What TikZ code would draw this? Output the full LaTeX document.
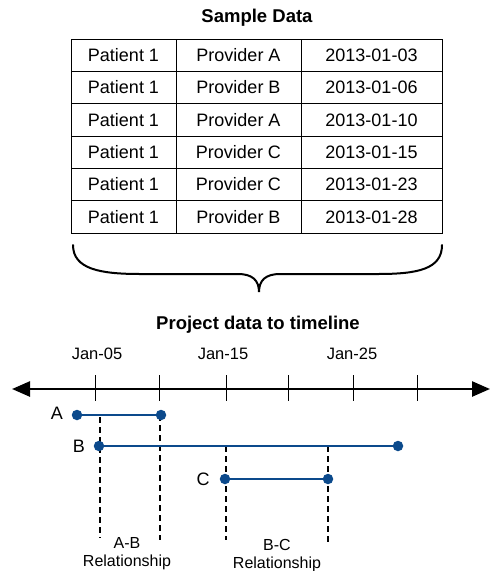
\documentclass[tikz,border=0pt]{standalone}
\usepackage{fontspec}
\setmainfont{Liberation Sans}
\usetikzlibrary{arrows.meta}
\definecolor{dotblue}{RGB}{12,74,140}
\begin{document}
\begin{tikzpicture}[x=1pt,y=-1pt,
  cell/.style={draw, line width=0.9pt, minimum height=32.33pt, inner sep=0pt,
    text height=12.8pt, text depth=0pt, font=\fontsize{18}{20}\selectfont},
  title/.style={font=\bfseries\fontsize{18.5}{20}\selectfont},
  ticklabel/.style={font=\fontsize{16.5}{18}\selectfont},
  letter/.style={font=\fontsize{18}{20}\selectfont},
  reltext/.style={font=\fontsize{16}{18}\selectfont, align=center},
  dot/.style={circle, fill=dotblue, inner sep=0pt, minimum size=10.5pt},
  span/.style={dotblue, line width=2pt},
  tickline/.style={line width=1pt},
  reldash/.style={line width=1.2pt, dash pattern=on 6pt off 4pt},
  axisline/.style={line width=2.5pt, >={Triangle[length=18pt,width=15pt]}, <->}]
\useasboundingbox (0,0) rectangle (491,571);
\fill[white] (0,0) rectangle (491,571);

% title
\node[title] (t1) at (257,18) {Sample Data};

% table
\foreach \p/\d [count=\i] in {A/03, B/06, A/10, C/15, C/23, B/28} {
  \node[cell, minimum width=105pt] (pat\i) at (123.5,{39+32.33*(\i-0.5)}) {Patient 1};
  \node[cell, minimum width=125pt] (prov\i) at (238.5,{39+32.33*(\i-0.5)}) {Provider \p};
  \node[cell, minimum width=141pt] (date\i) at (371.5,{39+32.33*(\i-0.5)}) {2013-01-\d};
}

% brace
\draw[line width=2pt, line cap=round]
  (73,245) .. controls (73,269) and (100,274) .. (140,274) -- (238,274)
  .. controls (252,274) and (259,280) .. (259,292)
  .. controls (259,280) and (266,274) .. (280,274) -- (378,274)
  .. controls (418,274) and (442,269) .. (442,245);

% second title
\node[title] (t2) at (258,325) {Project data to timeline};

% axis
\coordinate (axL) at (12,389);
\coordinate (axR) at (490,389);
\draw[axisline] (axL) -- (axR);
\foreach \x [count=\k] in {95,159,226,288,353,417} {
  \coordinate (tt\k) at (\x,375);
  \coordinate (tb\k) at (\x,401);
  \draw[tickline] (tt\k) -- (tb\k);
}
\node[ticklabel] (j05) at (97,354) {Jan-05};
\node[ticklabel] (j15) at (223,354) {Jan-15};
\node[ticklabel] (j25) at (352,354) {Jan-25};

% dashed relationship lines
\coordinate (d1t) at (100,417); \coordinate (d1b) at (100,538);
\coordinate (d2t) at (160,415); \coordinate (d2b) at (160,540);
\coordinate (d3t) at (226,446); \coordinate (d3b) at (226,540);
\coordinate (d4t) at (328,446); \coordinate (d4b) at (328,543);
\draw[reldash] (d1t) -- (d1b);
\draw[reldash] (d2t) -- (d2b);
\draw[reldash] (d3t) -- (d3b);
\draw[reldash] (d4t) -- (d4b);

% spans
\node[dot] (a1) at (77,415) {};
\node[dot] (a2) at (161,415) {};
\node[dot] (b1) at (99,446) {};
\node[dot] (b2) at (398,446) {};
\node[dot] (c1) at (225,479) {};
\node[dot] (c2) at (328,479) {};
\draw[span] (a1) -- (a2);
\draw[span] (b1) -- (b2);
\draw[span] (c1) -- (c2);
\node[letter] (la) at (57,413) {A};
\node[letter] (lb) at (79,446) {B};
\node[letter] (lc) at (203,479) {C};

% relationship labels
\node[reltext] (rab) at (127,554) {A-B\\Relationship};
\node[reltext] (rbc) at (277,556) {B-C\\Relationship};
\end{tikzpicture}
\end{document}
